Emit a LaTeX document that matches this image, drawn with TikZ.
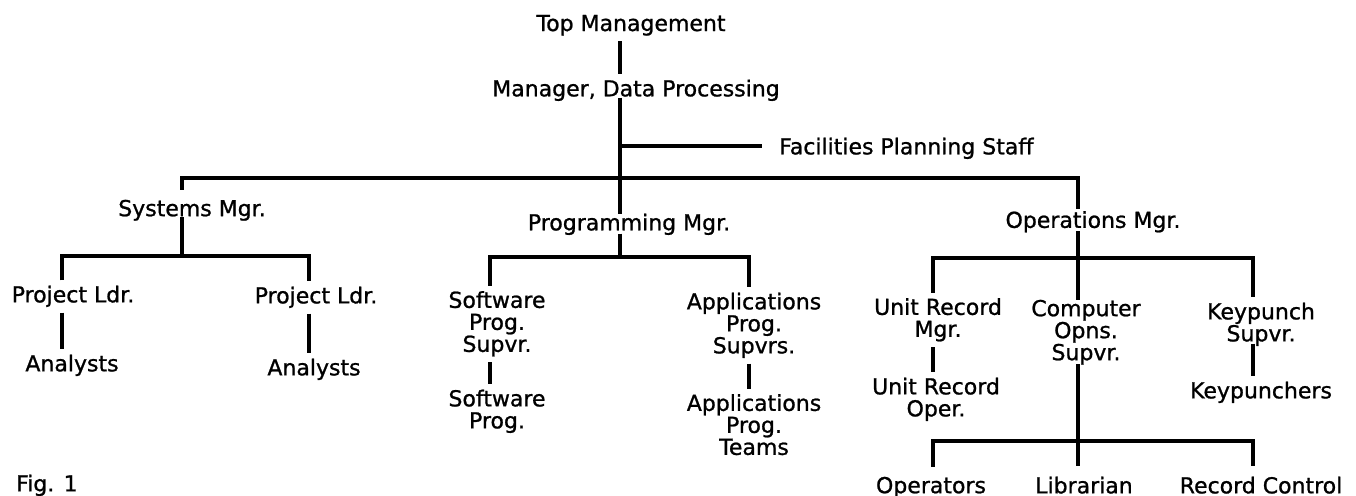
\documentclass[tikz,border=0pt]{standalone}
\usepackage{fontspec}
\setmainfont{DejaVu Sans}[FakeBold=1]
\newcommand\lblstrut{\rule[-5pt]{0pt}{21pt}}
\begin{document}
\begin{tikzpicture}[x=1pt,y=-1pt,
  lbl/.style={inner xsep=0pt, inner ysep=5pt, align=center,
    font=\fontsize{22}{22}\selectfont,
    execute at begin node=\lblstrut, execute at end node=\lblstrut},
  conn/.style={line width=3.2pt, line join=miter, line cap=butt},
]
\useasboundingbox (0,0) rectangle (1356,495);

% nodes
\node[lbl] (top)  at (631,25.5)  {Top Management};
\node[lbl] (mgr)  at (636,90.5)  {Manager, Data Processing};
\node[lbl,anchor=west] (fac) at (779,148.5) {Facilities Planning Staff};
\node[lbl] (sys)  at (192,210.5) {Systems Mgr.};
\node[lbl] (prog) at (629,224.5) {Programming Mgr.};
\node[lbl] (ops)  at (1093,222)  {Operations Mgr.};
\node[lbl] (pl1)  at (73,296.5)  {Project Ldr.};
\node[lbl] (pl2)  at (316,297.5) {Project Ldr.};
\node[lbl] (an1)  at (72,365.5)  {Analysts};
\node[lbl] (an2)  at (314,369.5) {Analysts};
\node[lbl] (sps)  at (497,324)   {Software\\Prog.\\Supvr.};
\node[lbl] (sp)   at (497,411.5) {Software\\Prog.};
\node[lbl] (aps)  at (754,325.5) {Applications\\Prog.\\Supvrs.};
\node[lbl] (apt)  at (754,427)   {Applications\\Prog.\\Teams};
\node[lbl] (urm)  at (938,320)   {Unit Record\\Mgr.};
\node[lbl] (cos)  at (1086,332.5) {Computer\\Opns.\\Supvr.};
\node[lbl] (kps)  at (1261,324.5) {Keypunch\\Supvr.};
\node[lbl] (uro)  at (936,399.5) {Unit Record\\Oper.};
\node[lbl] (kp)   at (1261,392.5) {Keypunchers};
\node[lbl] (opr)  at (931,487.5) {Operators};
\node[lbl] (lib)  at (1084,487.5) {Librarian};
\node[lbl] (rc)   at (1261,487.5) {Record Control};
\node[lbl,anchor=west] (fig) at (16,485.5) {Fig. 1};

% line positions
\coordinate (xc)  at (620,0);
\coordinate (xs)  at (182,0);
\coordinate (xo)  at (1078,0);
\coordinate (xl1) at (62,0);
\coordinate (xl2) at (309,0);
\coordinate (xsw) at (490,0);
\coordinate (xap) at (749,0);
\coordinate (xur) at (933,0);
\coordinate (xkp) at (1253,0);
\coordinate (fb)  at (620,146);
\coordinate (mb)  at (620,178);
\coordinate (sb)  at (182,256);
\coordinate (pb)  at (620,257);
\coordinate (ob)  at (1078,258);
\coordinate (lb)  at (1078,441);

% connectors
\draw[conn] (top.south -| xc) -- (mgr.north -| xc);
\draw[conn,shorten <=-9pt,shorten >=-6pt] (mgr.south -| xc) -- (prog.north -| xc);
\draw[conn,shorten >=17pt] (fb) -- (fb -| fac.west);
\draw[conn,shorten <=5pt,shorten >=-3.5pt] (sys.north -| xs) |- (mb) -| (ops.north -| xo);

\draw[conn,shorten <=-9pt] (sys.south -| xs) -- (sb);
\draw[conn] (pl1.north -| xl1) |- (sb) -| (pl2.north -| xl2);
\draw[conn] (pl1.south -| xl1) -- (an1.north -| xl1);
\draw[conn] (pl2.south -| xl2) -- (an2.north -| xl2);

\draw[conn,shorten <=-7pt] (prog.south -| xc) -- (pb);
\draw[conn] (sps.north -| xsw) |- (pb) -| (aps.north -| xap);
\draw[conn] (sps.south -| xsw) -- (sp.north -| xsw);
\draw[conn] (aps.south -| xap) -- (apt.north -| xap);

\draw[conn,shorten <=-7pt] (ops.south -| xo) -- (ob);
\draw[conn] (urm.north -| xur) |- (ob) -| (kps.north -| xkp);
\draw[conn,shorten >=-5pt] (ob) -- (cos.north -| xo);
\draw[conn] (urm.south -| xur) -- (uro.north -| xur);
\draw[conn,shorten <=-8pt] (kps.south -| xkp) -- (kp.north -| xkp);
\draw[conn,shorten <=-6pt] (cos.south -| xo) -- (lb);
\draw[conn,shorten <=5pt,shorten >=5pt] (opr.north -| xur) |- (lb) -| (rc.north -| xkp);
\draw[conn,shorten >=5pt] (lb) -- (lib.north -| xo);
\end{tikzpicture}
\end{document}
